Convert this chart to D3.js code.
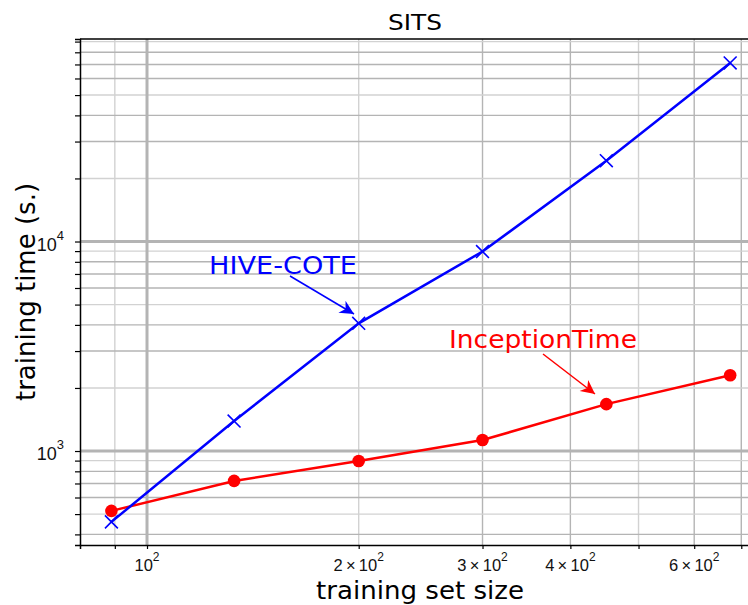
<!DOCTYPE html>
<html>
<head>
<meta charset="utf-8">
<script src="https://cdn.jsdelivr.net/npm/d3@7"></script>
<style>
  body { margin: 0; background: #fff; }
  svg { font-family: "Liberation Sans", Arial, sans-serif; }
</style>
</head>
<body>
<svg id="chart" width="748" height="605"></svg>
<script>
// training set sizes (SITS subsets)
const sizes = [89, 133, 200, 300, 450, 675];
// training time in seconds
const hiveCote = [459, 1390, 4070, 8960, 24300, 71200];
const inceptionTime = [518, 720, 896, 1128, 1674, 2300];

const xTickLabels = [[1, 2], [2, 2], [3, 2], [4, 2], [6, 2]]; // mantissa, exponent
const yTickLabels = [3, 4]; // 10^3, 10^4

const svg = d3.select("#chart");
const margin = { left: 80, top: 39, right: -4, bottom: 60 };
const W = 748, H = 605;

const x = d3.scaleLog().domain([80.3, 725]).range([margin.left, W - margin.right]);
const y = d3.scaleLog().domain([356, 92600]).range([H - margin.bottom, margin.top]);

const g = svg.append("g");

// GRID - minor first, then majors over them
const xMinor = [90, 200, 300, 400, 500, 600, 700];
const yMinor = [];
for (let e = 2; e <= 4; e++) for (let m = 1; m <= 9; m++) {
  const v = m * Math.pow(10, e);
  if (m !== 1 && v > 356 && v < 92600) yMinor.push(v);
}
const minorColor = (v) => {
  const m = Math.round(v / Math.pow(10, Math.floor(Math.log10(v) + 1e-9)));
  return (m === 2 || m === 5 || m === 9) ? "#d2d2d2" : "#b4b4b4";
};
g.selectAll(".vgrid").data(xMinor).enter().append("line")
  .attr("x1", (d) => x(d)).attr("x2", (d) => x(d))
  .attr("y1", margin.top).attr("y2", H - margin.bottom)
  .attr("stroke", minorColor).attr("stroke-width", 1.4);
g.selectAll(".hgrid").data(yMinor).enter().append("line")
  .attr("y1", (d) => y(d)).attr("y2", (d) => y(d))
  .attr("x1", margin.left).attr("x2", W)
  .attr("stroke", minorColor).attr("stroke-width", 1.4);
// majors
g.append("line").attr("x1", x(100)).attr("x2", x(100))
  .attr("y1", margin.top).attr("y2", H - margin.bottom)
  .attr("stroke", "#b4b4b4").attr("stroke-width", 3);
[1000, 10000].forEach((v) => {
  g.append("line").attr("y1", y(v)).attr("y2", y(v))
    .attr("x1", margin.left).attr("x2", W)
    .attr("stroke", "#b4b4b4").attr("stroke-width", 3);
});

// AXES
const xAxis = d3.axisBottom(x).tickValues([90, 100, 200, 300, 400, 500, 600, 700])
  .tickSize(4).tickFormat("");
const gx = g.append("g").attr("transform", `translate(0,${H - margin.bottom})`).call(xAxis);
const yAxis = d3.axisLeft(y).tickValues(yMinor.concat([1000, 10000])).tickSize(5).tickFormat("");
const gy = g.append("g").attr("transform", `translate(${margin.left},0)`).call(yAxis);
[gx, gy].forEach((a) => {
  a.select(".domain").attr("stroke", "#000").attr("stroke-width", 1.5);
  a.selectAll(".tick line").attr("stroke", "#000").attr("stroke-width", 1.2);
});
// top border
g.append("line").attr("x1", margin.left).attr("x2", W)
  .attr("y1", margin.top).attr("y2", margin.top)
  .attr("stroke", "#000").attr("stroke-width", 1.5);

// tick labels
xTickLabels.forEach(([m, e]) => {
  const t = g.append("text").attr("x", x(m * Math.pow(10, e)))
    .attr("y", H - margin.bottom + 26).attr("text-anchor", "middle")
    .attr("font-size", 16.5).attr("fill", "#111");
  if (m !== 1) t.append("tspan").text(m + "\u2009\u00d7\u200910");
  else t.append("tspan").text("10");
  t.append("tspan").attr("dy", -10).attr("font-size", 12).text(e);
});
yTickLabels.forEach((e) => {
  const t = g.append("text").attr("x", margin.left - 16).attr("y", y(Math.pow(10, e)) + 9)
    .attr("text-anchor", "end").attr("font-size", 18).attr("fill", "#111");
  t.append("tspan").text("10");
  t.append("tspan").attr("dy", -11).attr("font-size", 13).text(e);
});

// titles
const titleFont = "DejaVu Sans";
svg.append("text").attr("x", 415).attr("y", 30).attr("text-anchor", "middle")
  .attr("font-family", titleFont).attr("font-size", 22)
  .attr("textLength", 54).attr("lengthAdjust", "spacingAndGlyphs").text("SITS");
svg.append("text").attr("x", 420).attr("y", 599).attr("text-anchor", "middle")
  .attr("font-family", titleFont).attr("font-size", 25)
  .attr("textLength", 208).attr("lengthAdjust", "spacingAndGlyphs").text("training set size");
svg.append("text").attr("transform", "translate(35,292) rotate(-90)")
  .attr("text-anchor", "middle").attr("font-family", titleFont).attr("font-size", 26)
  .text("training time (s.)");

// LINES
const line = d3.line().x((d) => x(d[0])).y((d) => y(d[1]));
const hcData = sizes.map((s, i) => [s, hiveCote[i]]);
const itData = sizes.map((s, i) => [s, inceptionTime[i]]);

g.append("path").datum(itData).attr("d", line)
  .attr("fill", "none").attr("stroke", "#ff0000").attr("stroke-width", 2.5);
g.selectAll(".itpt").data(itData).enter().append("circle")
  .attr("cx", (d) => x(d[0])).attr("cy", (d) => y(d[1])).attr("r", 6.3)
  .attr("fill", "#ff0000");

g.append("path").datum(hcData).attr("d", line)
  .attr("fill", "none").attr("stroke", "#0000ff").attr("stroke-width", 2.5);
const cross = d3.symbol().type(d3.symbolX).size(110);
g.selectAll(".hcpt").data(hcData).enter().append("path")
  .attr("transform", (d) => `translate(${x(d[0])},${y(d[1])})`)
  .attr("d", cross).attr("fill", "none").attr("stroke", "#0000ff").attr("stroke-width", 1.6);

// ANNOTATIONS
const defs = svg.append("defs");
[["arrB", "#0000ff"], ["arrR", "#ff0000"]].forEach(([id, c]) => {
  defs.append("marker").attr("id", id).attr("viewBox", "0 0 10 10")
    .attr("refX", 10).attr("refY", 5).attr("markerWidth", 16).attr("markerHeight", 14)
    .attr("markerUnits", "userSpaceOnUse").attr("orient", "auto")
    .append("path").attr("d", "M0,0 L10,5 L0,10 L3,5 Z").attr("fill", c);
});
svg.append("text").attr("x", 209).attr("y", 274).attr("font-family", titleFont)
  .attr("font-size", 24).attr("textLength", 148).attr("lengthAdjust", "spacingAndGlyphs")
  .attr("fill", "#0000ff").text("HIVE-COTE");
svg.append("line").attr("x1", 290).attr("y1", 276).attr("x2", 354).attr("y2", 314)
  .attr("stroke", "#0000ff").attr("stroke-width", 1.5).attr("marker-end", "url(#arrB)");
svg.append("text").attr("x", 449).attr("y", 348).attr("font-family", titleFont)
  .attr("font-size", 24).attr("textLength", 188).attr("lengthAdjust", "spacingAndGlyphs")
  .attr("fill", "#ff0000").text("InceptionTime");
svg.append("line").attr("x1", 543).attr("y1", 354).attr("x2", 595).attr("y2", 394)
  .attr("stroke", "#ff0000").attr("stroke-width", 1.5).attr("marker-end", "url(#arrR)");
</script>
</body>
</html>
